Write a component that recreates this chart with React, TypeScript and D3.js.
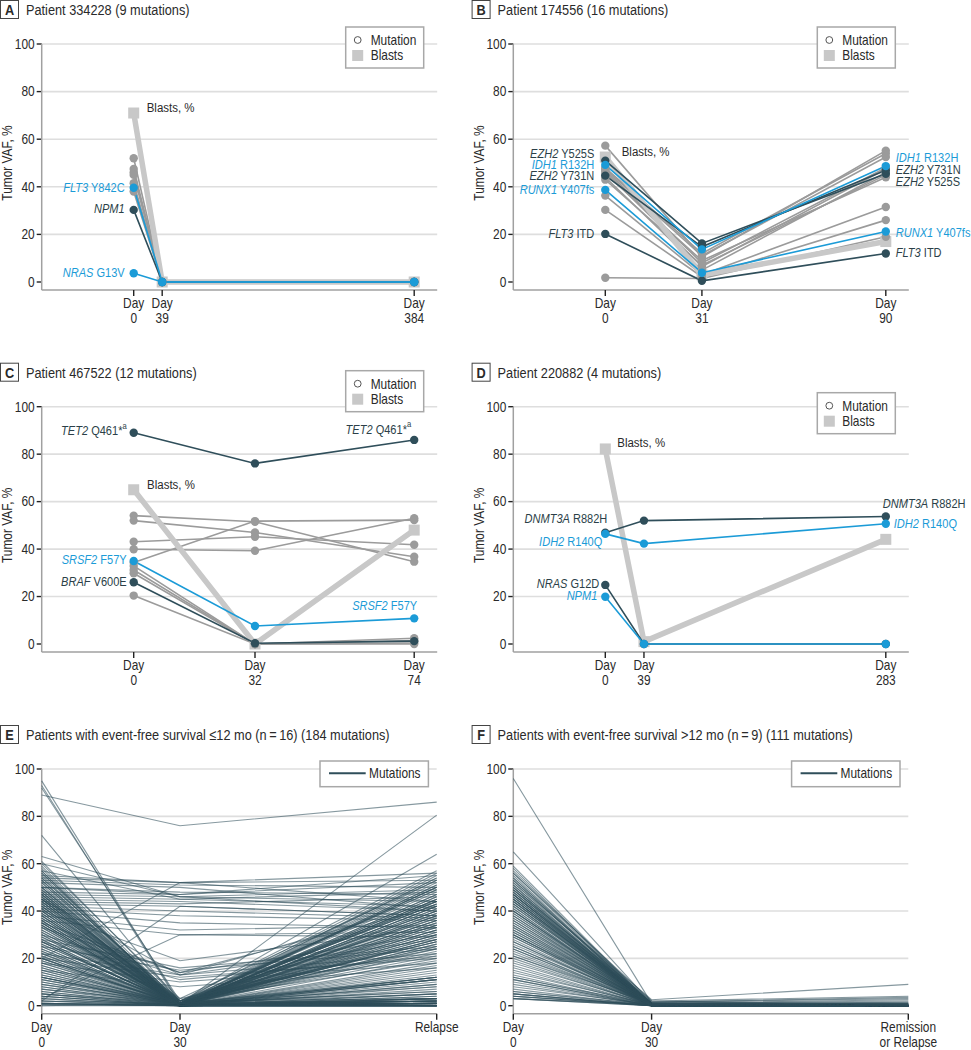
import React from "react";
import * as d3 from "d3";

const FONT = "'Liberation Sans', Arial, sans-serif";
const SX = 0.85; // horizontal condensing of the sans face
const GRAY = "#9b9b9b";
const DARK = "#2f4e5a";
const BLUE = "#1b9bd7";
const BLAST = "#c8c8c8";
const TEXT = "#2a2a2a";
const LABEL_DARK = "#2b3f48";
const GRID = "#dedede";
const AXIS = "#a0a0a0";

type Tone = "gray" | "dark" | "blue";
interface Mutation { tone: Tone; values: number[] }
interface Label { gene: string; change: string; tone: Tone; t: number; v: number; anchor: "start" | "end"; dx: number; sup?: string }

const yTicks = [0, 20, 40, 60, 80, 100];

// ---------- Panel A ----------
const aDays = [0, 39, 384];
const aBlasts = [71, 0, 0];
const aMutations: Mutation[] = [
  { tone: "gray", values: [52, 0, 0] },
  { tone: "gray", values: [47.5, 0, 0] },
  { tone: "gray", values: [46, 0, 0] },
  { tone: "gray", values: [45, 0, 0] },
  { tone: "gray", values: [41.5, 0, 0] },
  { tone: "gray", values: [38, 0, 0] },
  { tone: "dark", values: [30.3, 0, 0] },
  { tone: "blue", values: [39.6, 0, 0] },
  { tone: "blue", values: [3.7, 0, 0] },
];
const aLabels: Label[] = [
  { gene: "FLT3", change: "Y842C", tone: "blue", t: 0, v: 39.5, anchor: "end", dx: -9 },
  { gene: "NPM1", change: "", tone: "dark", t: 0, v: 31, anchor: "end", dx: -9 },
  { gene: "NRAS", change: "G13V", tone: "blue", t: 0, v: 4, anchor: "end", dx: -9 },
];

// ---------- Panel B ----------
const bDays = [0, 31, 90];
const bBlasts = [52.5, 3, 17];
const bMutations: Mutation[] = [
  { tone: "gray", values: [57.3, 10.5, 55.2] },
  { tone: "gray", values: [48, 12, 54] },
  { tone: "gray", values: [47.5, 11, 52.5] },
  { tone: "gray", values: [47, 8, 48] },
  { tone: "gray", values: [46.3, 6.5, 47.5] },
  { tone: "gray", values: [45.5, 9, 44] },
  { tone: "gray", values: [44, 5, 46] },
  { tone: "gray", values: [43, 7, 45] },
  { tone: "gray", values: [36.3, 3, 31.5] },
  { tone: "gray", values: [30.3, 2.2, 26] },
  { tone: "gray", values: [1.8, 1.5, 19] },
  { tone: "dark", values: [51, 16.2, 45.5] },
  { tone: "dark", values: [44.7, 14.8, 47] },
  { tone: "dark", values: [20.2, 0.5, 12] },
  { tone: "blue", values: [49.2, 13.7, 48.7] },
  { tone: "blue", values: [38.7, 3.9, 21.2] },
];
const bLabels: Label[] = [
  { gene: "EZH2", change: "Y525S", tone: "dark", t: 0, v: 53.8, anchor: "end", dx: -11 },
  { gene: "IDH1", change: "R132H", tone: "blue", t: 0, v: 49.3, anchor: "end", dx: -11 },
  { gene: "EZH2", change: "Y731N", tone: "dark", t: 0, v: 44.7, anchor: "end", dx: -11 },
  { gene: "RUNX1", change: "Y407fs", tone: "blue", t: 0, v: 38.7, anchor: "end", dx: -11 },
  { gene: "FLT3", change: "ITD", tone: "dark", t: 0, v: 20.2, anchor: "end", dx: -11 },
  { gene: "IDH1", change: "R132H", tone: "blue", t: 2, v: 52.2, anchor: "start", dx: 10 },
  { gene: "EZH2", change: "Y731N", tone: "dark", t: 2, v: 47.1, anchor: "start", dx: 10 },
  { gene: "EZH2", change: "Y525S", tone: "dark", t: 2, v: 42.1, anchor: "start", dx: 10 },
  { gene: "RUNX1", change: "Y407fs", tone: "blue", t: 2, v: 20.9, anchor: "start", dx: 10 },
  { gene: "FLT3", change: "ITD", tone: "dark", t: 2, v: 12.5, anchor: "start", dx: 10 },
];

// ---------- Panel C ----------
const cDays = [0, 32, 74];
const cBlasts = [65, 0, 48];
const cMutations: Mutation[] = [
  { tone: "gray", values: [54.1, 51.5, 34.7] },
  { tone: "gray", values: [52, 47, 36.8] },
  { tone: "gray", values: [43.1, 45.2, 41.8] },
  { tone: "gray", values: [39.9, 39.3, 53] },
  { tone: "gray", values: [34.3, 51.8, 52.2] },
  { tone: "gray", values: [32.9, 0, 2.4] },
  { tone: "gray", values: [31.2, 0, 0.4] },
  { tone: "gray", values: [29.8, 0, 1.5] },
  { tone: "gray", values: [20.4, 0, 0] },
  { tone: "dark", values: [89, 76.1, 86] },
  { tone: "dark", values: [26, 0.3, 1.2] },
  { tone: "blue", values: [35, 7.6, 10.8] },
];
const cLabels: Label[] = [
  { gene: "TET2", change: "Q461*", sup: "a", tone: "dark", t: 0, v: 89.9, anchor: "end", dx: -7 },
  { gene: "TET2", change: "Q461*", sup: "a", tone: "dark", t: 2, v: 90.5, anchor: "end", dx: -3 },
  { gene: "SRSF2", change: "F57Y", tone: "blue", t: 0, v: 35.4, anchor: "end", dx: -7 },
  { gene: "BRAF", change: "V600E", tone: "dark", t: 0, v: 26.3, anchor: "end", dx: -7 },
  { gene: "SRSF2", change: "F57Y", tone: "blue", t: 2, v: 16, anchor: "end", dx: 3 },
];

// ---------- Panel D ----------
const dDays = [0, 39, 283];
const dBlasts = [82.2, 1, 44.1];
const dMutations: Mutation[] = [
  { tone: "dark", values: [46.9, 52, 53.7] },
  { tone: "dark", values: [24.9, 0, 0] },
  { tone: "blue", values: [46.4, 42.3, 50.7] },
  { tone: "blue", values: [19.9, 0, 0] },
];
const dLabels: Label[] = [
  { gene: "DNMT3A", change: "R882H", tone: "dark", t: 0, v: 53, anchor: "end", dx: 2 },
  { gene: "IDH2", change: "R140Q", tone: "blue", t: 0, v: 43.1, anchor: "end", dx: -3 },
  { gene: "NRAS", change: "G12D", tone: "dark", t: 0, v: 25.6, anchor: "end", dx: -6 },
  { gene: "NPM1", change: "", tone: "blue", t: 0, v: 20.4, anchor: "end", dx: -8 },
  { gene: "DNMT3A", change: "R882H", tone: "dark", t: 2, v: 59.3, anchor: "start", dx: -3 },
  { gene: "IDH2", change: "R140Q", tone: "blue", t: 2, v: 50.9, anchor: "start", dx: 8 },
];

// ---------- Panel E (EFS <= 12 mo) : [Day 0, Day 30, Relapse] ----------
const eTimepoints = ["Day 0", "Day 30", "Relapse"];
const eMutations: number[][] = [
  [89, 76, 86], [63, 46, 40], [2, 42, 38], [3, 30, 29], [20, 52, 44],
  [55, 52, 53], [53, 51, 50], [50, 48, 47], [48, 47, 52], [47, 46, 44],
  [46, 45, 42], [45, 44, 40], [44, 43, 46], [52, 50, 41], [43, 42, 38],
  [42, 40, 37], [41, 38, 36], [40, 35, 33], [38, 32, 34], [36, 30, 31],
  [50, 47, 55], [54, 52, 56], [60, 46, 49], [57, 45, 48],
  [35, 14, 30], [30, 13, 28], [28, 16, 25], [25, 15, 24], [22, 13, 22],
  [40, 19, 33], [33, 14, 42], [20, 12, 20], [18, 10, 18], [45, 13, 44],
  [15, 8, 16], [27, 11, 21],
  [95, 1, 2], [93, 0.5, 1], [92, 2, 3], [72, 1, 0.5], [1, 0.5, 80.5], [12, 1, 64],
  [58, 0, 55], [56, 1, 54], [55, 0, 52], [54, 2, 57], [53, 0, 50], [52, 1, 48],
  [51, 0, 46], [50, 0, 45], [50, 2, 44], [49, 1, 43], [48, 0, 42], [48, 0, 41],
  [47, 1, 40], [47, 0, 39], [46, 0, 38], [46, 2, 37], [45, 1, 36], [45, 0, 35],
  [44, 0, 34], [44, 1, 33], [43, 0, 32], [43, 0, 31], [42, 1, 30], [42, 0, 29],
  [41, 0, 28], [41, 2, 27], [40, 0, 26], [40, 1, 25], [39, 0, 53], [39, 0, 51],
  [38, 1, 49], [38, 0, 47], [37, 0, 45], [37, 2, 43], [36, 0, 42], [36, 1, 40],
  [35, 0, 38], [35, 0, 36], [34, 1, 34], [34, 0, 32], [33, 0, 30], [32, 1, 28],
  [31, 0, 26], [30, 0, 54], [29, 1, 50], [28, 0, 46], [27, 0, 42], [26, 1, 38],
  [25, 0, 34], [24, 0, 30], [23, 1, 27], [22, 0, 44], [21, 0, 40], [20, 0, 36],
  [19, 1, 32], [18, 0, 28], [17, 0, 25], [16, 0, 47], [15, 1, 43], [14, 0, 39],
  [13, 0, 35], [12, 0, 31], [11, 1, 27], [10, 0, 24], [9, 0, 45], [8, 0, 41],
  [7, 1, 37], [6, 0, 33], [5, 0, 29], [4, 0, 50], [60, 3, 53], [59, 1, 56],
  [57, 0, 51], [61, 2, 49], [56, 0, 44],
  [52, 0, 1], [50, 1, 0], [48, 0, 2], [47, 0, 0], [45, 2, 1], [44, 0, 3],
  [42, 1, 0], [40, 0, 5], [39, 0, 1], [38, 0, 0], [37, 1, 8], [36, 0, 2],
  [35, 0, 12], [34, 0, 11], [33, 1, 0], [32, 0, 3], [31, 0, 1], [30, 0, 20],
  [29, 2, 22], [28, 0, 18], [27, 0, 15], [26, 1, 12], [25, 0, 11], [24, 0, 9],
  [23, 0, 5], [22, 1, 2], [21, 0, 0], [20, 0, 1], [20, 0, 8], [19, 0, 12],
  [18, 1, 11], [17, 0, 4], [16, 0, 2], [15, 0, 0], [14, 0, 1], [13, 1, 6],
  [12, 0, 11], [12, 0, 3], [11, 0, 0], [10, 0, 2], [9, 1, 5], [8, 0, 0],
  [7, 0, 1], [6, 0, 3], [5, 0, 0], [5, 1, 2], [4, 0, 1], [3, 0, 0],
  [3, 0, 4], [2, 0, 1], [2, 1, 0], [1, 0, 0], [1, 0, 2], [1, 0, 12],
  [0.5, 0, 0], [0.5, 0, 1], [0, 0, 0], [0, 1, 3], [2, 0, 17], [4, 0, 23],
  [54, 2, 19], [46, 1, 21], [41, 0, 16], [43, 3, 24], [49, 0, 13], [53, 1, 6],
  [57, 0, 10], [35, 0, 14], [27, 0, 9], [45, 0, 7],
];

// ---------- Panel F (EFS > 12 mo) : [Day 0, Day 30, Remission or Relapse] ----------
const fTimepoints = ["Day 0", "Day 30", "Remission or Relapse"];
const fMutations: number[][] = [
  [96, 1, 0], [65, 1, 1], [59, 0.5, 0], [57, 1, 0], [56, 2, 0.5], [55, 0, 0],
  [54, 1, 0], [53, 0.5, 0], [53, 1, 1], [52, 0, 0], [52, 2.5, 9], [51, 1, 0],
  [51, 0, 0.5], [50, 0.5, 0], [50, 1, 0], [50, 0, 0], [49, 2, 4], [49, 0, 0],
  [48, 1, 0], [48, 0.5, 0.5], [48, 0, 0], [47, 1, 0], [47, 0, 0], [47, 1.5, 3.5],
  [46, 0, 0], [46, 1, 1], [46, 0.5, 0], [45, 0, 0], [45, 1, 0], [45, 0, 0.5],
  [44, 1.5, 3], [44, 0, 0], [44, 0.5, 0], [43, 1, 0], [43, 0, 0], [42, 0.5, 0],
  [42, 1, 2.5], [41, 0, 0], [41, 0.5, 0], [40, 1, 0], [40, 0, 0], [39, 0, 0],
  [39, 1, 2], [38, 0.5, 0], [38, 0, 0], [37, 1, 0], [36, 0, 0], [36, 0.5, 0.5],
  [35, 0, 0], [35, 1, 0], [34, 0, 0], [33, 0.5, 0], [33, 0, 0], [32, 1, 0],
  [31, 0, 0], [31, 0.5, 1.5], [30, 0, 0], [30, 1, 0], [30, 0, 0], [29, 0.5, 0],
  [28, 0, 0], [27, 0, 0], [26, 1, 0], [25, 0, 0], [25, 0.5, 0], [24, 0, 0],
  [23, 0, 0], [22, 0.5, 0], [21, 0, 0], [21, 1, 1], [20, 0, 0], [19, 0, 0],
  [18, 0.5, 0], [17, 0, 0], [16, 0, 0], [15, 0, 0], [14, 0.5, 0], [13, 0, 0],
  [12, 0, 0], [12, 0.5, 0.5], [11, 0, 0], [11, 0, 0], [10, 0, 0], [9, 0, 0],
  [8, 0.5, 0], [7, 0, 0], [6, 0, 0], [6, 0.5, 0], [5, 0, 0], [5, 0, 0.5],
  [5, 0, 0], [4, 0, 0], [4, 0.5, 0], [4, 0, 0], [3, 0, 0], [3, 0, 0],
  [3, 0.5, 0], [58, 0, 0], [56, 0.5, 0], [54, 0, 0], [49, 0.5, 0], [47, 0, 0.5],
  [45, 0.5, 0], [43, 0, 0.5], [40, 0.5, 0], [37, 0, 0], [34, 0.5, 0], [32, 0, 0],
  [29, 0, 0], [27, 0.5, 0], [24, 0.5, 0],
];

// ---------- helpers ----------
const toneColor = (t: Tone) => (t === "blue" ? BLUE : t === "dark" ? DARK : GRAY);

function T({ x, y, anchor = "start", size = 14, fill = TEXT, weight, rotate, children }: {
  x: number; y: number; anchor?: "start" | "middle" | "end"; size?: number; fill?: string; weight?: number; rotate?: number; children: React.ReactNode;
}) {
  const tr = `translate(${x},${y})${rotate ? ` rotate(${rotate})` : ""} scale(${SX},1)`;
  return (
    <text transform={tr} textAnchor={anchor} dominantBaseline="central" fontSize={size} fill={fill} fontWeight={weight}>
      {children}
    </text>
  );
}

function Frame({ letter, title, axisX, top }: { letter: string; title: string; axisX: number; top: number }) {
  const x0 = axisX - 41.7;
  const y0 = top - 44;
  return (
    <g>
      <rect x={x0 + 0.5} y={y0 + 0.5} width={18} height={18} fill="white" stroke="#444" strokeWidth={1} />
      <T x={x0 + 9.5} y={y0 + 10} anchor="middle" size={15} weight={700}>{letter}</T>
      <T x={x0 + 26} y={y0 + 10} size={15}>{title}</T>
    </g>
  );
}

function Axes({ axisX, y, xPositions, tickLabels, width }: { axisX: number; y: d3.ScaleLinear<number, number>; xPositions: number[]; tickLabels: string[][]; width: number }) {
  const xAxisY = y(0) + 8;
  const [bottom, top] = y.range();
  return (
    <g>
      {yTicks.map((t) => (
        <g key={t}>
          {t > 0 && <line x1={axisX} x2={axisX + width} y1={y(t)} y2={y(t)} stroke={GRID} strokeWidth={1.6} />}
          <line x1={axisX - 5} x2={axisX} y1={y(t)} y2={y(t)} stroke="#222" strokeWidth={1.4} />
          <T x={axisX - 7} y={y(t)} anchor="end">{t}</T>
        </g>
      ))}
      <line x1={axisX} x2={axisX} y1={top} y2={xAxisY} stroke={AXIS} strokeWidth={1.5} />
      <line x1={axisX} x2={axisX + width} y1={xAxisY} y2={xAxisY} stroke={AXIS} strokeWidth={1.5} />
      {xPositions.map((px, i) => (
        <g key={i}>
          <line x1={px} x2={px} y1={xAxisY} y2={xAxisY + 6} stroke="#222" strokeWidth={1.4} />
          {tickLabels[i].map((s, j) => (
            <T key={j} x={px} y={xAxisY + 13.5 + j * 15} anchor="middle">{s}</T>
          ))}
        </g>
      ))}
      <T x={axisX - 34.5} y={(top + bottom) / 2} anchor="middle" rotate={-90}>Tumor VAF, %</T>
    </g>
  );
}

interface PatientSpec {
  letter: string; title: string; axisX: number; top: number; bottom: number;
  days: number[]; blasts: number[]; mutations: Mutation[]; labels: Label[];
  blastLabel: { dx: number; v: number }; legendDy: number;
}

function PatientPanel({ spec }: { spec: PatientSpec }) {
  const { axisX, top, bottom, days } = spec;
  const y = d3.scaleLinear().domain([0, 100]).range([bottom, top]);
  const x = d3.scaleLinear().domain([days[0], days[days.length - 1]]).range([axisX + 92, axisX + 372.5]);
  const line = d3.line<[number, number]>().x((d) => x(d[0])).y((d) => y(d[1]));
  const pts = (vals: number[]) => vals.map((v, i) => [days[i], v] as [number, number]);
  const order: Tone[] = ["gray", "dark", "blue"];
  const lx = axisX + 304;
  const ly = top + spec.legendDy;
  return (
    <g>
      <Frame letter={spec.letter} title={spec.title} axisX={axisX} top={top} />
      <Axes axisX={axisX} y={y} xPositions={days.map((d) => x(d))} tickLabels={days.map((d) => ["Day", String(d)])} width={395.5} />
      {/* legend */}
      <rect x={lx} y={ly} width={78} height={41} fill="white" stroke="#a8a8a8" strokeWidth={1.5} />
      <circle cx={lx + 12} cy={ly + 13} r={3.4} fill="white" stroke="#555" strokeWidth={1} />
      <T x={lx + 25} y={ly + 13}>Mutation</T>
      <rect x={lx + 6.5} y={ly + 23} width={11} height={11} fill={BLAST} />
      <T x={lx + 25} y={ly + 28.5}>Blasts</T>
      {/* gray mutation lines */}
      {spec.mutations.filter((m) => m.tone === "gray").map((m, i) => (
        <path key={"g" + i} d={line(pts(m.values)) || ""} fill="none" stroke={GRAY} strokeWidth={1.6} />
      ))}
      {/* blasts */}
      <path d={line(pts(spec.blasts)) || ""} fill="none" stroke={BLAST} strokeWidth={5.5} strokeLinejoin="round" />
      {spec.blasts.map((v, i) => (
        <rect key={"b" + i} x={x(days[i]) - 5.5} y={y(v) - 5.5} width={11} height={11} fill={BLAST} />
      ))}
      {/* highlighted lines */}
      {["dark", "blue"].map((tone) =>
        spec.mutations.filter((m) => m.tone === tone).map((m, i) => (
          <path key={tone + i} d={line(pts(m.values)) || ""} fill="none" stroke={toneColor(m.tone)} strokeWidth={1.6} />
        ))
      )}
      {/* points */}
      {order.map((tone) =>
        spec.mutations.filter((m) => m.tone === tone).map((m, i) =>
          m.values.map((v, j) => (
            <circle key={tone + i + "-" + j} cx={x(days[j])} cy={y(v)} r={4.2} fill={toneColor(tone)} />
          ))
        )
      )}
      {/* blast label */}
      <T x={x(days[0]) + spec.blastLabel.dx} y={y(spec.blastLabel.v)} size={13.5}>Blasts, %</T>
      {/* gene labels */}
      {spec.labels.map((l, i) => (
        <T key={"l" + i} x={x(days[l.t]) + l.dx} y={y(l.v)} anchor={l.anchor} size={13} fill={l.tone === "blue" ? BLUE : LABEL_DARK}>
          <tspan fontStyle="italic">{l.gene}</tspan>
          {l.change ? <tspan>{" " + l.change}</tspan> : null}
          {l.sup ? <tspan fontSize={9} dy={-5}>{l.sup}</tspan> : null}
        </T>
      ))}
    </g>
  );
}

interface CohortSpec { letter: string; title: string; axisX: number; top: number; bottom: number; timepoints: string[]; tickLabels: string[][]; mutations: number[][] }

function CohortPanel({ spec }: { spec: CohortSpec }) {
  const { axisX, top, bottom } = spec;
  const y = d3.scaleLinear().domain([0, 100]).range([bottom, top]);
  const x = d3.scaleOrdinal<string, number>().domain(spec.timepoints).range([axisX, axisX + 138.3, axisX + 395]);
  const line = d3.line<number>().x((_, i) => x(spec.timepoints[i])).y((v) => y(v));
  const lx = axisX + 278.3;
  const ly = top - 8;
  return (
    <g>
      <Frame letter={spec.letter} title={spec.title} axisX={axisX} top={top} />
      <Axes axisX={axisX} y={y} xPositions={spec.timepoints.map((t) => x(t))} tickLabels={spec.tickLabels} width={395} />
      {spec.mutations.map((m, i) => (
        <path key={i} d={line(m) || ""} fill="none" stroke={DARK} strokeOpacity={0.58} strokeWidth={1.1} />
      ))}
      <rect x={lx} y={ly} width={108.4} height={25.7} fill="white" stroke="#a8a8a8" strokeWidth={1.5} />
      <line x1={lx + 9} x2={lx + 45.7} y1={ly + 12.3} y2={ly + 12.3} stroke={DARK} strokeWidth={2} />
      <T x={lx + 49} y={ly + 12.5}>Mutations</T>
    </g>
  );
}

const patientPanels: PatientSpec[] = [
  { letter: "A", title: "Patient 334228 (9 mutations)", axisX: 41.7, top: 44, bottom: 282, days: aDays, blasts: aBlasts, mutations: aMutations, labels: aLabels, blastLabel: { dx: 13, v: 73.4 }, legendDy: -17 },
  { letter: "B", title: "Patient 174556 (16 mutations)", axisX: 513.3, top: 44, bottom: 282, days: bDays, blasts: bBlasts, mutations: bMutations, labels: bLabels, blastLabel: { dx: 16.4, v: 54.7 }, legendDy: -17 },
  { letter: "C", title: "Patient 467522 (12 mutations)", axisX: 41.7, top: 406.7, bottom: 644, days: cDays, blasts: cBlasts, mutations: cMutations, labels: cLabels, blastLabel: { dx: 13.4, v: 67 }, legendDy: -36 },
  { letter: "D", title: "Patient 220882 (4 mutations)", axisX: 513.3, top: 406.7, bottom: 644, days: dDays, blasts: dBlasts, mutations: dMutations, labels: dLabels, blastLabel: { dx: 12, v: 85 }, legendDy: -14 },
];

const cohortPanels: CohortSpec[] = [
  { letter: "E", title: "Patients with event-free survival \u226412 mo (n\u2009=\u200916) (184 mutations)", axisX: 41.7, top: 769, bottom: 1005.7, timepoints: eTimepoints, tickLabels: [["Day", "0"], ["Day", "30"], ["Relapse"]], mutations: eMutations },
  { letter: "F", title: "Patients with event-free survival >12 mo (n\u2009=\u20099) (111 mutations)", axisX: 513.3, top: 769, bottom: 1005.7, timepoints: fTimepoints, tickLabels: [["Day", "0"], ["Day", "30"], ["Remission", "or Relapse"]], mutations: fMutations },
];

export default function App() {
  return (
    <div style={{ position: "absolute", left: 0, top: 0 }}>
      <svg width={971} height={1050} style={{ display: "block", fontFamily: FONT }}>
        <rect width={971} height={1050} fill="white" />
        {patientPanels.map((p) => <PatientPanel key={p.letter} spec={p} />)}
        {cohortPanels.map((p) => <CohortPanel key={p.letter} spec={p} />)}
      </svg>
    </div>
  );
}
